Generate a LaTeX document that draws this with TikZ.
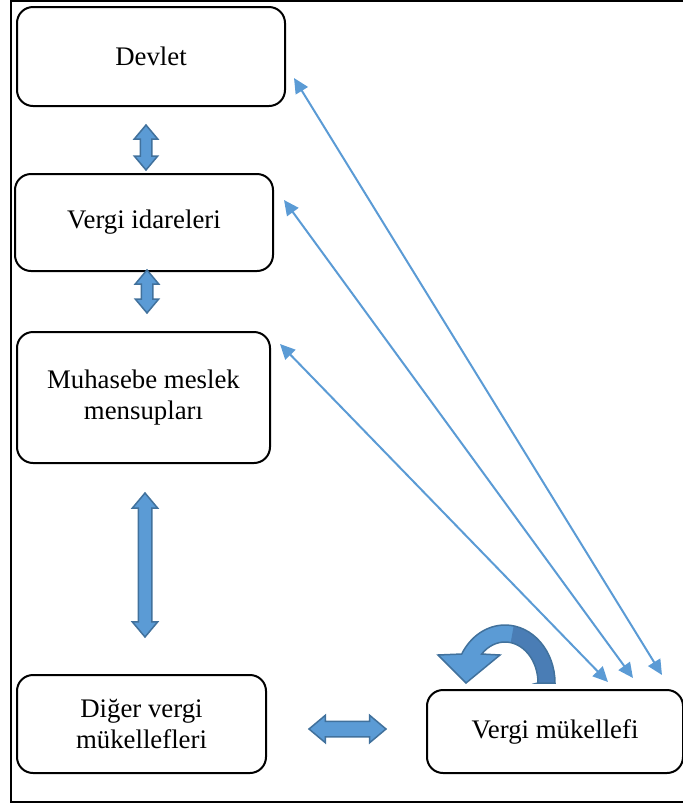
\documentclass[tikz,border=0pt]{standalone}
\usepackage{fontspec}
\setmainfont{Liberation Serif}
\usetikzlibrary{arrows.meta,shapes.arrows}
\definecolor{okmavi}{HTML}{5B9BD5}
\definecolor{okkenar}{HTML}{41719C}
\definecolor{okkoyu}{HTML}{4A7DB5}

\begin{document}
\begin{tikzpicture}[x=0.5pt,y=-0.5pt,
  kutu/.style={draw,line width=1pt,rounded corners=8pt,align=center,inner sep=0pt,
    font=\fontsize{13.4}{15.5}\selectfont},
  ince/.style={okmavi,line width=1pt,
    {Triangle[length=7.5pt,width=7pt]}-{Triangle[length=7.5pt,width=7pt]}},
  kalin/.style={double arrow,draw=okkenar,fill=okmavi,line width=0.75pt,inner xsep=0pt,
    inner ysep=2.5pt,minimum width=11pt,double arrow head extend=3pt,double arrow tip angle=80}]
 \useasboundingbox (0,0) rectangle (683,805);
 \draw[line width=1pt] (700,1) -- (11,1) -- (11,802) -- (700,802);
 \node[kutu,minimum width=134pt,minimum height=49.5pt] (devlet) at (151,56.5) {Devlet};
 \node[kutu,minimum width=129pt,minimum height=48.5pt] (idare) at (144,222.5) {Vergi idareleri};
 \node[kutu,minimum width=126.5pt,minimum height=65.5pt] (muhasebe) at (143.5,397.5) {Muhasebe meslek\\mensupları};
 \node[kutu,minimum width=124.5pt,minimum height=49pt] (diger) at (141.5,724) {Diğer vergi\\mükellefleri};
 \node[kutu,minimum width=128pt,minimum height=41.5pt] (mukellef) at (555,731.5) {Vergi mükellefi};
 \node[kalin,rotate=90,minimum height=22.5pt] (ok1) at (146,147.5) {};
 \node[kalin,rotate=90,minimum height=21.5pt] (ok2) at (147,291.5) {};
 \node[kalin,rotate=90,minimum height=72pt,inner ysep=3pt,minimum width=12.5pt] (ok3) at (145,565) {};
 \node[kalin,minimum height=38.5pt,inner ysep=3.5pt,minimum width=12.5pt] (ok4) at (347.5,729) {};
 \draw[ince] ([shift={(8,21.5)}]devlet.east) -- ([shift={(-22,-14)}]mukellef.north east);
 \draw[ince] ([shift={(10,-22.5)}]idare.east) -- ([shift={(-51,-11)}]mukellef.north east);
 \draw[ince] ([shift={(9,13)}]muhasebe.north east) -- ([shift={(-76,-7)}]mukellef.north east);
 \fill[okmavi] (538,683) -- (555,683) arc[start angle=0,end angle=-150,x radius=50,y radius=58]
   -- (438,655) -- (466,683) -- (500,655) -- (481.7,654)
   arc[start angle=-135,end angle=0,x radius=33,y radius=41] -- cycle;
 \fill[okkoyu] (538,683) -- (555,683) arc[start angle=0,end angle=-80,x radius=50,y radius=58]
   -- (510.7,642.6) arc[start angle=-80,end angle=0,x radius=33,y radius=41] -- cycle;
 \draw[okkenar,line width=0.75pt] (538,683) -- (555,683) arc[start angle=0,end angle=-150,x radius=50,y radius=58]
   -- (438,655) -- (466,683) -- (500,655) -- (481.7,654)
   arc[start angle=-135,end angle=0,x radius=33,y radius=41] -- cycle;
\end{tikzpicture}
\end{document}
